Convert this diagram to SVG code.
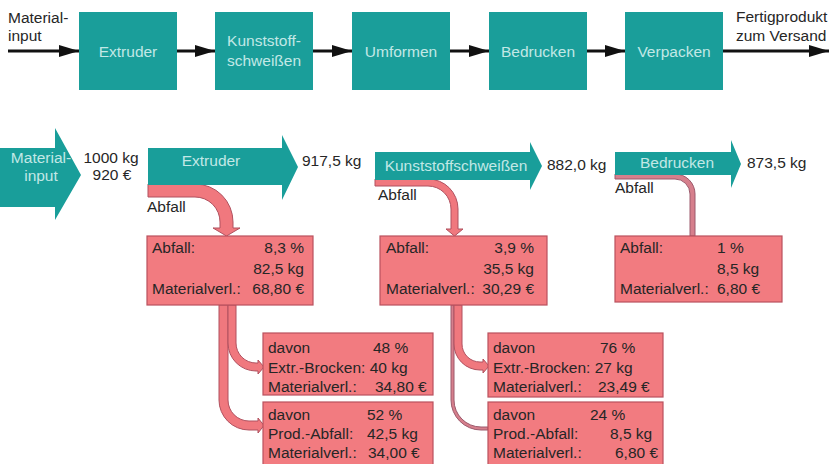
<svg xmlns="http://www.w3.org/2000/svg" width="830" height="464" viewBox="0 0 830 464">
<style>
text{font-family:"Liberation Sans",Arial,sans-serif;font-size:15.5px;fill:#262626}
.w{fill:#c2e8e6}
.m{text-anchor:middle}
.e{text-anchor:end}
.box{fill:#1a9e9a}
.tl{fill:#199e9a}
.pk{fill:#f27b80;stroke:#b9515e;stroke-width:1.2}
.band{fill:#f0787e;stroke:#b0505e;stroke-width:1}
.mauve{fill:#d67f8c;stroke:#9c5a6c;stroke-width:1}
.ln{stroke:#111;stroke-width:3;fill:none}
</style>
<defs>
<marker id="ah" markerUnits="userSpaceOnUse" markerWidth="20" markerHeight="12" refX="20" refY="6" orient="auto">
<path d="M0,0 L20,6 L0,12 Z" fill="#111"/>
</marker>
</defs>
<rect width="830" height="464" fill="#fff"/>

<g id="connectors">
<line class="ln" x1="8" y1="51" x2="79" y2="51" marker-end="url(#ah)"/>
<line class="ln" x1="177" y1="51" x2="215" y2="51" marker-end="url(#ah)"/>
<line class="ln" x1="313" y1="51" x2="352" y2="51" marker-end="url(#ah)"/>
<line class="ln" x1="450" y1="51" x2="489" y2="51" marker-end="url(#ah)"/>
<line class="ln" x1="587" y1="51" x2="625" y2="51" marker-end="url(#ah)"/>
<line class="ln" x1="723" y1="51" x2="829" y2="51" marker-end="url(#ah)"/>
<path class="band" d="M148,184 H195 A38,38 0 0 1 233,222 V228 H240 L226.5,236 L213,228 H220 V222 A25,25 0 0 0 195,197 H148 Z"/>
<path class="band" d="M375,179 H428 A30,30 0 0 1 458,209 V229 H463 L454.5,236 L446,229 H451 V209 A23,23 0 0 0 428,186 H375 Z"/>
<path class="mauve" d="M615,174 H675 A20,20 0 0 1 695,194 V236 H690 V194 A15,15 0 0 0 675,179 H615 Z"/>
<path class="band" d="M219,305 V400 A30,30 0 0 0 249,430 H258 V433 L264,425.5 L258,418 V421 H249 A21,21 0 0 1 228,400 V305 Z"/>
<path class="band" d="M228,305 V343 A28,28 0 0 0 256,371 H258 V374 L264,367 L258,360 V363 H256 A20,20 0 0 1 236,343 V305 Z"/>
<path class="mauve" d="M451,305 V400 A30,30 0 0 0 481,430 H488 V427 H481 A27,27 0 0 1 454,400 V305 Z"/>
<path class="band" d="M454,305 V344 A26,26 0 0 0 480,370 H483 V373 L489,366 L483,359 V362 H480 A18,18 0 0 1 462,344 V305 Z"/>
</g>

<g id="labels-top">
<text x="8" y="23">Material-</text>
<text x="8" y="41">input</text>
<text x="736" y="22">Fertigprodukt</text>
<text x="736" y="41">zum Versand</text>
</g>

<g id="n-extruder"><rect class="box" x="79" y="12" width="98" height="78"/><text class="w m" x="128" y="57">Extruder</text></g>
<g id="n-kunststoff"><rect class="box" x="215" y="12" width="98" height="78"/><text class="w m" x="264" y="46">Kunststoff-</text><text class="w m" x="264" y="66">schweißen</text></g>
<g id="n-umformen"><rect class="box" x="352" y="12" width="98" height="78"/><text class="w m" x="401" y="57">Umformen</text></g>
<g id="n-bedrucken"><rect class="box" x="489" y="12" width="98" height="78"/><text class="w m" x="538" y="57">Bedrucken</text></g>
<g id="n-verpacken"><rect class="box" x="625" y="12" width="98" height="78"/><text class="w m" x="674" y="57">Verpacken</text></g>

<g id="s-input">
<path class="tl" d="M0,148 H55 V128 L81,175 L55,220 V207 H0 Z"/>
<text class="w m" x="41" y="163">Material-</text>
<text class="w m" x="41" y="181">input</text>
<text class="m" x="111" y="163">1000 kg</text>
<text class="m" x="112" y="180">920 €</text>
</g>
<g id="s-extruder">
<path class="tl" d="M148,148 H282 V135 L298,167 L282,200 V185 H148 Z"/>
<text class="w m" x="211" y="166">Extruder</text>
<text x="302" y="166">917,5 kg</text>
<text x="147" y="212">Abfall</text>
</g>
<g id="s-kunststoff">
<path class="tl" d="M375,152 H530 V142 L542,166 L530,190 V180 H375 Z"/>
<text class="w m" x="456" y="171">Kunststoffschweißen</text>
<text x="547" y="170">882,0 kg</text>
<text x="378" y="200">Abfall</text>
</g>
<g id="s-bedrucken">
<path class="tl" d="M615,152 H731 V140 L741,164 L731,188 V175 H615 Z"/>
<text class="w m" x="677" y="168">Bedrucken</text>
<text x="747" y="168">873,5 kg</text>
<text x="615" y="193">Abfall</text>
</g>

<g id="b-extruder">
<rect class="pk" x="147" y="236" width="166" height="69"/>
<text x="152" y="253">Abfall:</text><text class="e" x="304" y="253">8,3 %</text>
<text class="e" x="304" y="274">82,5 kg</text>
<text x="152" y="294">Materialverl.:</text><text class="e" x="304" y="294">68,80 €</text>
</g>
<g id="b-kunststoff">
<rect class="pk" x="380" y="236" width="167" height="69"/>
<text x="386" y="253">Abfall:</text><text class="e" x="534" y="253">3,9 %</text>
<text class="e" x="534" y="274">35,5 kg</text>
<text x="386" y="294">Materialverl.:</text><text class="e" x="534" y="294">30,29 €</text>
</g>
<g id="b-bedrucken">
<rect class="pk" x="615" y="236" width="167" height="66"/>
<text x="620" y="253">Abfall:</text><text x="717" y="253">1 %</text>
<text x="717" y="274">8,5 kg</text>
<text x="620" y="294">Materialverl.:</text><text x="717" y="294">6,80 €</text>
</g>
<g id="b-ex-brocken">
<rect class="pk" x="263" y="333" width="170" height="62"/>
<text x="268" y="353">davon</text><text x="373" y="353">48 %</text>
<text x="268" y="373">Extr.-Brocken: 40 kg</text>
<text x="268" y="392">Materialverl.:</text><text x="375" y="392">34,80 €</text>
</g>
<g id="b-ex-prod">
<rect class="pk" x="263" y="402" width="170" height="70"/>
<text x="268" y="420">davon</text><text x="367" y="420">52 %</text>
<text x="268" y="439">Prod.-Abfall:</text><text x="367" y="439">42,5 kg</text>
<text x="268" y="458">Materialverl.:</text><text x="368" y="458">34,00 €</text>
</g>
<g id="b-ks-brocken">
<rect class="pk" x="488" y="333" width="175" height="64"/>
<text x="493" y="353">davon</text><text x="600" y="353">76 %</text>
<text x="493" y="373">Extr.-Brocken: 27 kg</text>
<text x="493" y="392">Materialverl.:</text><text x="598" y="392">23,49 €</text>
</g>
<g id="b-ks-prod">
<rect class="pk" x="488" y="402" width="175" height="70"/>
<text x="493" y="420">davon</text><text x="590" y="420">24 %</text>
<text x="493" y="439">Prod.-Abfall:</text><text x="610" y="439">8,5 kg</text>
<text x="493" y="458">Materialverl.:</text><text x="615" y="458">6,80 €</text>
</g>
</svg>
